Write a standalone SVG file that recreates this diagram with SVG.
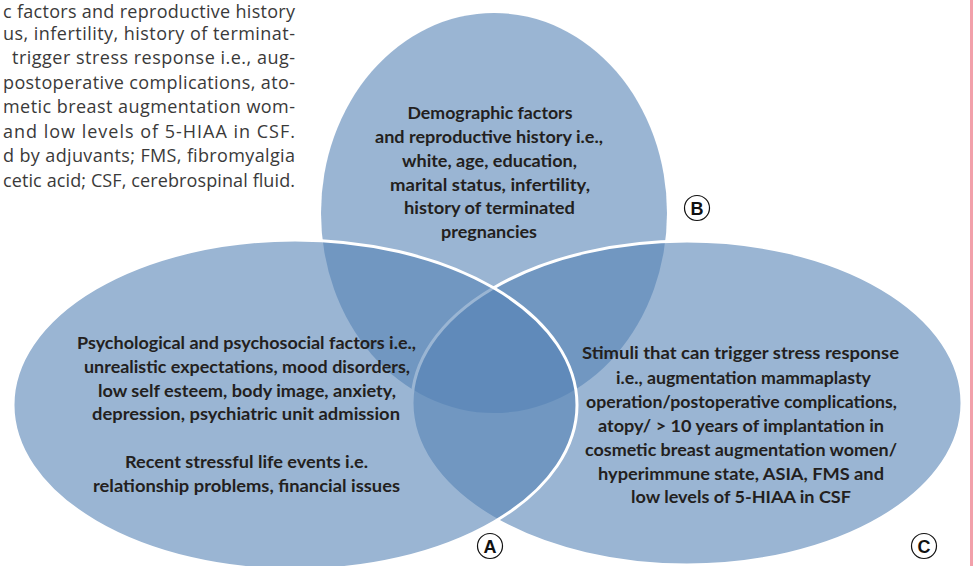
<svg xmlns="http://www.w3.org/2000/svg" width="973" height="566" viewBox="0 0 973 566">
<style>
.cap{font-family:"Open Sans","Noto Sans","Liberation Sans",sans-serif;font-size:18px;fill:#3a3a3a;text-anchor:end}
.lbl{font-family:Lato,"Liberation Sans",sans-serif;font-weight:bold;font-size:17.5px;fill:#231f20;text-anchor:middle}
.set{fill:#5582b5;fill-opacity:0.594}
.edge{fill:none;stroke:#ffffff;stroke-width:3}
.badge circle{fill:#ffffff;stroke:#111111;stroke-width:1.2}
.badge text{font-family:"Liberation Sans",Arial,sans-serif;font-weight:bold;font-size:18px;fill:#111111;text-anchor:middle}
</style>
<rect width="973" height="566" fill="#ffffff"/>
<g id="caption">
<text class="cap" x="295" y="17.5" textLength="292" lengthAdjust="spacing">c factors and reproductive history</text>
<text class="cap" x="295" y="39.5" textLength="292" lengthAdjust="spacing">us, infertility, history of terminat-</text>
<text class="cap" x="295" y="64" textLength="283" lengthAdjust="spacing">trigger stress response i.e., aug-</text>
<text class="cap" x="295" y="88.5" textLength="292" lengthAdjust="spacing">postoperative complications, ato-</text>
<text class="cap" x="295" y="113" textLength="292" lengthAdjust="spacing">metic breast augmentation wom-</text>
<text class="cap" x="295" y="137.5" textLength="292" lengthAdjust="spacing">and low levels of 5-HIAA in CSF.</text>
<text class="cap" x="295" y="162" textLength="292" lengthAdjust="spacing">d by adjuvants; FMS, fibromyalgia</text>
<text class="cap" x="295" y="186.5" textLength="292" lengthAdjust="spacing">cetic acid; CSF, cerebrospinal fluid.</text>
</g>
<g id="node-B">
<ellipse class="set" cx="494" cy="213" rx="173" ry="200"/>
</g>
<g id="node-C">
<ellipse class="set" cx="687" cy="403" rx="275" ry="162"/>
<ellipse class="edge" cx="687" cy="403" rx="275" ry="162"/>
</g>
<g id="node-A">
<ellipse class="set" cx="295" cy="405" rx="282" ry="165"/>
<ellipse class="edge" cx="295" cy="405" rx="282" ry="165"/>
</g>
<g id="connectors"></g>
<g id="text-B">
<text class="lbl" x="490" y="119" textLength="165" lengthAdjust="spacingAndGlyphs">Demographic factors</text>
<text class="lbl" x="489" y="143" textLength="228" lengthAdjust="spacingAndGlyphs">and reproductive history i.e.,</text>
<text class="lbl" x="489.5" y="167" textLength="175" lengthAdjust="spacingAndGlyphs">white, age, education,</text>
<text class="lbl" x="490" y="190.5" textLength="200" lengthAdjust="spacingAndGlyphs">marital status, infertility,</text>
<text class="lbl" x="489.5" y="214" textLength="171" lengthAdjust="spacingAndGlyphs">history of terminated</text>
<text class="lbl" x="489" y="238" textLength="96" lengthAdjust="spacingAndGlyphs">pregnancies</text>
</g>
<g id="text-A">
<text class="lbl" x="246.5" y="349" textLength="339" lengthAdjust="spacingAndGlyphs">Psychological and psychosocial factors i.e.,</text>
<text class="lbl" x="247" y="373" textLength="326" lengthAdjust="spacingAndGlyphs">unrealistic expectations, mood disorders,</text>
<text class="lbl" x="247" y="397" textLength="298" lengthAdjust="spacingAndGlyphs">low self esteem, body image, anxiety,</text>
<text class="lbl" x="246" y="420" textLength="308" lengthAdjust="spacingAndGlyphs">depression, psychiatric unit admission</text>
<text class="lbl" x="246.5" y="468" textLength="243" lengthAdjust="spacingAndGlyphs">Recent stressful life events i.e.</text>
<text class="lbl" x="246.5" y="492" textLength="307" lengthAdjust="spacingAndGlyphs">relationship problems, financial issues</text>
</g>
<g id="text-C">
<text class="lbl" x="740.5" y="359" textLength="317" lengthAdjust="spacingAndGlyphs">Stimuli that can trigger stress response</text>
<text class="lbl" x="743.5" y="384" textLength="255" lengthAdjust="spacingAndGlyphs">i.e., augmentation mammaplasty</text>
<text class="lbl" x="741.5" y="408" textLength="311" lengthAdjust="spacingAndGlyphs">operation/postoperative complications,</text>
<text class="lbl" x="741" y="432" textLength="286" lengthAdjust="spacingAndGlyphs">atopy/ &gt; 10 years of implantation in</text>
<text class="lbl" x="741" y="456" textLength="312" lengthAdjust="spacingAndGlyphs">cosmetic breast augmentation women/</text>
<text class="lbl" x="741" y="480" textLength="286" lengthAdjust="spacingAndGlyphs">hyperimmune state, ASIA, FMS and</text>
<text class="lbl" x="741" y="503" textLength="220" lengthAdjust="spacingAndGlyphs">low levels of 5-HIAA in CSF</text>
</g>
<g id="badge-B" class="badge"><circle cx="697" cy="208" r="12.5"/><text x="697" y="214.5">B</text></g>
<g id="badge-A" class="badge"><circle cx="490" cy="546" r="12.5"/><text x="490" y="552.5">A</text></g>
<g id="badge-C" class="badge"><circle cx="924" cy="546" r="12.5"/><text x="924" y="552.5">C</text></g>
<rect x="970" y="0" width="3" height="566" fill="#f2a0aa"/>
</svg>
